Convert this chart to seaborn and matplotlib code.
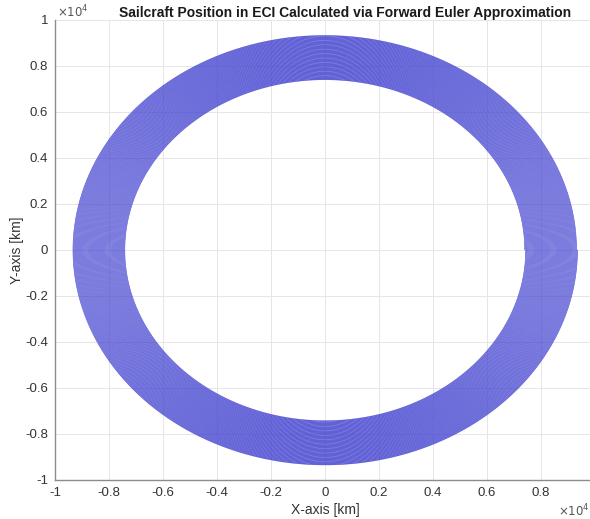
import numpy as np
import matplotlib
matplotlib.use("Agg")
import matplotlib.pyplot as plt
from matplotlib.ticker import FuncFormatter
import seaborn as sns

# orbit raising spiral (km)
r_start_km = 7400.0
r_end_km = 9350.0
n_revs = 55
tick_vals = [-1.0, -0.8, -0.6, -0.4, -0.2, 0.0, 0.2, 0.4, 0.6, 0.8, 1.0]

# trajectory of the sailcraft
theta = np.linspace(0, 2 * np.pi * n_revs, n_revs * 400)
r = r_start_km + (r_end_km - r_start_km) * theta / theta[-1]
x_km = r * np.cos(theta)
y_km = r * np.sin(theta)

sns.set_style("white")
plt.rcParams['font.family'] = ['Liberation Sans', 'DejaVu Sans']

fig = plt.figure(figsize=(5.9, 5.19), dpi=100)
ax = fig.add_axes([55 / 590, 39 / 519, 540 / 590, 460 / 519])

sns.lineplot(x=x_km, y=y_km, sort=False, estimator=None, color="#4444d0",
             linewidth=0.5, alpha=0.95, ax=ax)

ax.set_xlim(-1e4, 1e4)
ax.set_ylim(-1e4, 1e4)
ticks = [v * 1e4 for v in tick_vals]
ax.set_xticks(ticks)
ax.set_yticks(ticks)
ax.xaxis.set_major_formatter(FuncFormatter(
    lambda v, p: "" if v >= 1e4 else "%g" % round(v / 1e4, 1)))
ax.yaxis.set_major_formatter(FuncFormatter(lambda v, p: "%g" % round(v / 1e4, 1)))
ax.grid(True, color="#e6e6e6", linewidth=0.7)
ax.set_axisbelow(True)
ax.tick_params(direction="in", length=4, width=0.8, color="#8c8c8c",
               labelsize=9.5, labelcolor="#333333", pad=5)
for s in ["top", "right"]:
    ax.spines[s].set_visible(False)
for s in ["left", "bottom"]:
    ax.spines[s].set_color("#8c8c8c")
    ax.spines[s].set_linewidth(1.0)

ax.set_xlabel("X-axis [km]", fontsize=10, color="#333333", labelpad=3)
ax.set_ylabel("Y-axis [km]", fontsize=10, color="#333333", labelpad=1)
ax.set_title("Sailcraft Position in ECI Calculated via Forward Euler Approximation",
             fontsize=10, fontweight="bold", color="#1a1a1a", pad=2, x=0.537)

fig.text(57 / 590, 1 - 12 / 519, r"$\times10^{4}$", fontsize=8.5, color="#555555",
         va="center", ha="left")
fig.text(558 / 590, 1 - 511 / 519, r"$\times10^{4}$", fontsize=8.5, color="#555555",
         va="center", ha="left")

fig.savefig("out.png", dpi=100)
